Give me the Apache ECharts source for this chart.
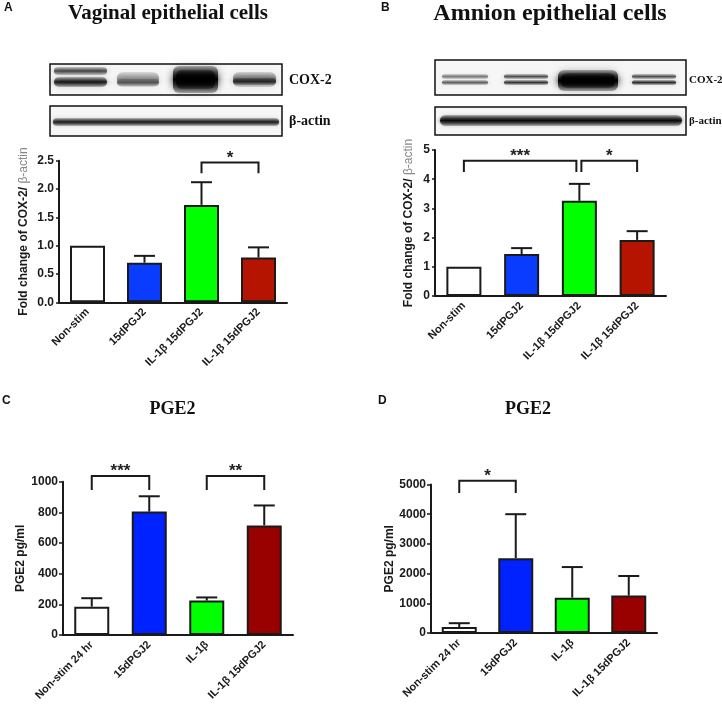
<!DOCTYPE html>
<html><head><meta charset="utf-8">
<script src="https://cdn.jsdelivr.net/npm/echarts@6/dist/echarts.min.js"></script>
<style>html,body{margin:0;padding:0;background:#fff}#c{width:722px;height:707px}</style>
</head><body><div id="c"></div>
<script>
// ---------- data ----------
const catsAB = ['Non-stim', '15dPGJ2', 'IL-1β 15dPGJ2', 'IL-1β 15dPGJ2'];
const catsCD = ['Non-stim 24 hr', '15dPGJ2', 'IL-1β', 'IL-1β 15dPGJ2'];

const valuesA = [1.0, 0.70, 1.72, 0.79];
const errorsA = [0, 0.12, 0.40, 0.18];
const valuesB = [1.0, 1.44, 3.26, 1.92];
const errorsB = [0, 0.20, 0.58, 0.30];
const valuesC = [185, 805, 225, 715];
const errorsC = [55, 100, 20, 130];
const valuesD = [200, 2520, 1190, 1260];
const errorsD = [130, 1480, 1030, 660];

// significance brackets: [fromCategory, toCategory, bracketTop, legBottom]
const sigA = [[2, 3, 2.47, 2.28]];
const sigALabels = ['*'];
const sigB = [[0, 2, 4.63, 4.25], [2, 3, 4.63, 4.25]];
const sigBLabels = ['***', '*'];
const sigC = [[0, 1, 1037, 946], [2, 3, 1037, 946]];
const sigCLabels = ['***', '**'];
const sigD = [[0, 1, 5128, 4714]];
const sigDLabels = ['*'];

const yTicksA = {min: 0, max: 2.5, interval: 0.5};
const yTicksB = {min: 0, max: 5, interval: 1};
const yTicksC = {min: 0, max: 1000, interval: 200};
const yTicksD = {min: 0, max: 5000, interval: 1000};

// ---------- styles ----------
const colorsAB = ['#ffffff', '#0a3cff', '#00ff00', '#b51400'];
const colorsCD = ['#ffffff', '#0022ff', '#00ff00', '#990000'];
const SANS = 'Liberation Sans, Arial, sans-serif';
const SERIF = 'Liberation Serif, Times New Roman, serif';
const INK = '#1a1a1a';

function errRender(params, api) {
  const i = api.value(0), v = api.value(1), e = api.value(2);
  if (!e) return null;
  const p0 = api.coord([i, v]);
  const p1 = api.coord([i, v + e]);
  return {type: 'group', children: [
    {type: 'line', shape: {x1: p0[0], y1: p0[1], x2: p1[0], y2: p1[1]}, style: {stroke: INK, lineWidth: 2}},
    {type: 'line', shape: {x1: p1[0] - 10.5, y1: p1[1], x2: p1[0] + 10.5, y2: p1[1]}, style: {stroke: INK, lineWidth: 2}}
  ]};
}

function makeSigRender(brackets, labels) {
  return function (params, api) {
    const idx = params.dataIndex;
    const b = brackets[idx];
    let x1 = api.coord([b[0], b[2]])[0];
    let x2 = api.coord([b[1], b[2]])[0];
    brackets.forEach((o, j) => {
      if (j === idx) return;
      if (o[0] === b[1]) x2 -= 3;
      if (o[1] === b[0]) x1 += 2;
    });
    const yt = api.coord([b[0], b[2]])[1];
    const yl = api.coord([b[0], b[3]])[1];
    return {type: 'group', children: [
      {type: 'polyline', shape: {points: [[x1, yl], [x1, yt], [x2, yt], [x2, yl]]},
       style: {stroke: INK, lineWidth: 2, fill: null}},
      {type: 'text', x: (x1 + x2) / 2, y: yt - 13,
       style: {text: labels[idx], textAlign: 'center', textVerticalAlign: 'top',
               font: 'bold 17px ' + SANS, fill: '#222'}}
    ]};
  };
}

const grids = [
  {left: 59, top: 160.7, width: 228, height: 141.6},
  {left: 435, top: 150, width: 231, height: 146},
  {left: 63, top: 481.7, width: 230, height: 153.3},
  {left: 431, top: 484.5, width: 226, height: 148.5}
];

const panels = [
  {cats: catsAB, vals: valuesA, errs: errorsA, sig: sigA, sigL: sigALabels, y: yTicksA, colors: colorsAB,
   name: '{a|Fold change of COX-2/ }{b|β-actin}', gap: 29, fmt: v => v.toFixed(1), tick: 3},
  {cats: catsAB, vals: valuesB, errs: errorsB, sig: sigB, sigL: sigBLabels, y: yTicksB, colors: colorsAB,
   name: '{a|Fold change of COX-2/ }{b|β-actin}', gap: 20, fmt: v => String(v), tick: 3},
  {cats: catsCD, vals: valuesC, errs: errorsC, sig: sigC, sigL: sigCLabels, y: yTicksC, colors: colorsCD,
   name: '{a|PGE2 pg/ml}', gap: 36, fmt: v => String(v), tick: 4},
  {cats: catsCD, vals: valuesD, errs: errorsD, sig: sigD, sigL: sigDLabels, y: yTicksD, colors: colorsCD,
   name: '{a|PGE2 pg/ml}', gap: 35, fmt: v => String(v), tick: 4}
];

const xAxis = [], yAxis = [], series = [];
panels.forEach((p, i) => {
  xAxis.push({
    gridIndex: i, type: 'category', data: p.cats,
    axisLine: {lineStyle: {color: INK, width: 2}},
    axisTick: {alignWithLabel: true, length: 4, lineStyle: {color: INK, width: 1.5}},
    axisLabel: {interval: 0, rotate: 45, margin: 8, fontFamily: SANS, fontWeight: 'bold', fontSize: 11, color: INK}
  });
  yAxis.push({
    gridIndex: i, type: 'value', min: p.y.min, max: p.y.max, interval: p.y.interval,
    splitLine: {show: false},
    axisLine: {show: true, lineStyle: {color: INK, width: 2}},
    axisTick: {show: true, length: p.tick, lineStyle: {color: INK, width: 1.5}},
    axisLabel: {formatter: p.fmt, fontFamily: SANS, fontWeight: 'bold', fontSize: 12, color: INK, margin: 5},
    name: p.name, nameLocation: 'middle', nameRotate: 90, nameGap: p.gap,
    nameTextStyle: {rich: {
      a: {fontFamily: SANS, fontWeight: 'bold', fontSize: 12, color: INK},
      b: {fontFamily: SANS, fontSize: 12, color: '#888'}
    }}
  });
  series.push({
    type: 'bar', xAxisIndex: i, yAxisIndex: i, barWidth: 35,
    data: p.vals.map((v, k) => ({value: v, itemStyle: {color: p.colors[k]}})),
    itemStyle: {borderColor: INK, borderWidth: 2}, z: 2
  });
  series.push({
    type: 'custom', xAxisIndex: i, yAxisIndex: i, renderItem: errRender,
    data: p.vals.map((v, k) => [k, v, p.errs[k]]), z: 1, clip: false
  });
  series.push({
    type: 'custom', xAxisIndex: i, yAxisIndex: i, renderItem: makeSigRender(p.sig, p.sigL),
    data: p.sig, encode: {x: [0, 1], y: [2, 3]}, z: 3, clip: false
  });
});

// ---------- western blot images (decorative graphics) ----------
function band(x1, x2, y1, y2, a, blur) {
  return {type: 'rect', shape: {x: x1, y: y1, width: x2 - x1, height: y2 - y1, r: Math.min(6, (y2 - y1) / 2)},
    style: {fill: {type: 'linear', x: 0, y: 0, x2: 0, y2: 1, colorStops: [
      {offset: 0, color: 'rgba(0,0,0,' + (a * 0.25) + ')'},
      {offset: 0.5, color: 'rgba(0,0,0,' + a + ')'},
      {offset: 1, color: 'rgba(0,0,0,' + (a * 0.25) + ')'}]},
      shadowBlur: blur || 7, shadowColor: 'rgba(0,0,0,' + (a * 0.7) + ')'}};
}
function box(x, y, w, h) {
  return {type: 'rect', shape: {x: x, y: y, width: w, height: h}, style: {fill: '#f6f6f6', stroke: 'none'}};
}
function frame(x, y, w, h) {
  return {type: 'rect', shape: {x: x, y: y, width: w, height: h}, style: {fill: null, stroke: '#111', lineWidth: 1.5}};
}
function text(x, y, t, font, align) {
  return {type: 'text', x: x, y: y, style: {text: t, font: font, fill: '#111', textAlign: align || 'left', textVerticalAlign: 'middle'}};
}

const graphic = [
  text(4, 8, 'A', 'bold 12px ' + SANS), text(381, 8, 'B', 'bold 12px ' + SANS),
  text(2, 401, 'C', 'bold 12px ' + SANS), text(378, 401, 'D', 'bold 12px ' + SANS),
  text(168, 14, 'Vaginal epithelial cells', 'bold 21px ' + SERIF, 'center'),
  text(550, 14, 'Amnion epithelial cells', 'bold 24px ' + SERIF, 'center'),
  text(172.5, 409, 'PGE2', 'bold 18px ' + SERIF, 'center'),
  text(528, 409, 'PGE2', 'bold 18px ' + SERIF, 'center'),
  // blot A
  box(50, 64, 232, 31),
  band(54, 107, 67, 75, 0.65), band(54, 107, 77, 87, 0.85),
  band(117, 159, 72, 87, 0.4), band(117, 159, 79, 86, 0.45),
  band(173, 218, 66, 93, 1.0, 8), band(176, 215, 70, 89, 1.0),
  band(233, 276, 72, 87, 0.5), band(233, 276, 78, 85, 0.65),
  frame(50, 64, 232, 31),
  box(50, 106, 232, 30),
  band(53, 279, 118, 126, 0.8, 4),
  frame(50, 106, 232, 30),
  text(289, 80, 'COX-2', 'bold 14px ' + SERIF), text(289, 121, 'β-actin', 'bold 14px ' + SERIF),
  // blot B
  box(435, 60, 251, 35),
  band(442, 488, 74, 79, 0.45, 5), band(442, 488, 80, 85, 0.55, 5),
  band(504, 548, 74, 79, 0.6, 5), band(504, 548, 80, 85, 0.7, 5),
  band(558, 618, 70, 91, 1.0, 8), band(561, 615, 73, 88, 1.0),
  band(632, 676, 74, 79, 0.6, 5), band(632, 676, 80, 85, 0.75, 5),
  frame(435, 60, 251, 35),
  box(435, 107, 251, 28),
  band(440, 682, 115, 126, 0.9, 4),
  frame(435, 107, 251, 28),
  text(689, 80, 'COX-2', 'bold 11px ' + SERIF), text(689, 121, 'β-actin', 'bold 11px ' + SERIF)
];

const chart = echarts.init(document.getElementById('c'), null, {renderer: 'canvas'});
chart.setOption({animation: false, backgroundColor: '#fff', grid: grids, xAxis: xAxis, yAxis: yAxis, series: series, graphic: graphic});
</script>
</body></html>
